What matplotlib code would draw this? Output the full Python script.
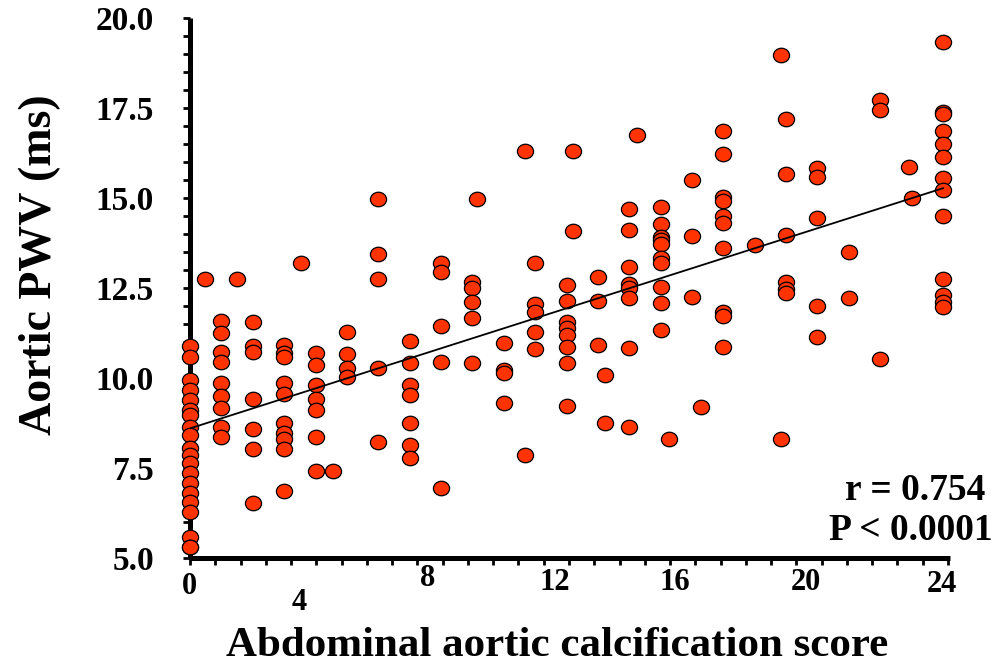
import matplotlib
matplotlib.use("Agg")
import matplotlib.pyplot as plt
import numpy as np
from matplotlib.path import Path
from matplotlib.transforms import blended_transform_factory, offset_copy

plt.rcParams['font.family'] = ['Liberation Serif', 'DejaVu Serif']
plt.rcParams['font.weight'] = 'bold'

# ---- data ----
aac_score = (
    [0] * 20
    + [0.48, 1.49, 3.53]
    + [1] * 9
    + [2] * 7
    + [3] * 10
    + [4] * 7
    + [4.55]
    + [5] * 4
    + [6] * 5
    + [7] * 7
    + [8] * 5
    + [9] * 5 + [9.14]
    + [10] * 4 + [10.68] * 2
    + [11] * 5
    + [12] * 8 + [12.22] * 2
    + [13] * 3 + [13.23] * 2
    + [14] * 8 + [14.26]
    + [15] * 10 + [15.27]
    + [16] * 3 + [16.28]
    + [17] * 10
    + [18.0]
    + [18.84] * 2
    + [19] * 6
    + [20] * 5
    + [21] * 2
    + [22] * 3
    + [22.92, 23.0]
    + [24] * 13
)
pwv = (
    [10.89, 10.59, 9.94, 9.67, 9.39, 9.11, 8.97, 8.65, 8.42, 8.05, 7.86, 7.63,
     7.35, 7.07, 6.80, 6.56, 6.29, 5.59, 5.31, 5.31]
    + [12.74, 12.74, 13.19]
    + [11.59, 11.26, 10.73, 10.45, 9.85, 9.50, 9.17, 8.65, 8.37]
    + [11.55, 10.89, 10.73, 9.41, 8.58, 8.02, 6.52]
    + [10.92, 10.69, 10.59, 9.85, 9.56, 8.76, 8.46, 8.30, 8.02, 6.87]
    + [10.69, 10.36, 9.81, 9.41, 9.11, 8.37, 7.42]
    + [7.42]
    + [11.29, 10.67, 10.27, 10.04]
    + [14.97, 13.44, 12.75, 10.27, 8.21]
    + [11.04, 10.43, 9.81, 9.53, 8.74, 8.14, 7.77]
    + [13.19, 12.95, 11.45, 10.45, 6.95]
    + [12.68, 12.49, 12.10, 11.66, 10.41, 14.97]
    + [10.96, 10.22, 10.13, 9.30, 16.31, 7.86]
    + [13.19, 12.05, 11.84, 11.27, 10.80]
    + [12.58, 12.14, 11.56, 11.38, 11.19, 10.85, 10.41, 9.22, 16.31, 14.08]
    + [12.81, 12.14, 10.92, 10.08, 8.76]
    + [14.69, 14.11, 13.09, 12.60, 12.49, 12.21, 10.82, 8.65, 16.75]
    + [14.76, 14.28, 13.93, 13.83, 13.72, 13.32, 13.19, 12.52, 12.07, 11.33, 8.30]
    + [15.50, 13.94, 12.26, 9.20]
    + [16.86, 16.21, 15.04, 14.92, 14.50, 14.31, 13.62, 11.84, 11.72, 10.85]
    + [13.69]
    + [18.97, 8.30]
    + [17.19, 15.67, 13.97, 12.68, 12.46, 12.35]
    + [15.84, 15.59, 14.44, 12.00, 11.15]
    + [13.49, 12.23]
    + [17.72, 17.44, 10.52]
    + [15.85, 14.99]
    + [19.34, 17.40, 17.33, 16.85, 16.50, 16.15, 15.55, 15.22, 14.50, 12.74,
       12.31, 12.12, 11.96]
)
reg_intercept = 8.60
reg_slope = 0.278

x_tick_labels = ['0', '4', '8', '12', '16', '20', '24']
x_tick_label_pos = [-0.03, 3.47, 7.58, 11.63, 15.46, 19.63, 23.97]
x_tick_label_offset_px = [28, 45, 21, 24, 25, 25, 26]
x_minor_tick_count = 30
y_major_ticks = [5.0, 7.5, 10.0, 12.5, 15.0, 17.5, 20.0]

r_text = 'r = 0.754'
p_text = 'P < 0.0001'

# ---- figure ----
W, H = 999, 668
fig = plt.figure(figsize=(W / 100, H / 100), dpi=100)
left_px, right_px, top_px, bottom_px = 190, 950, 18, 558
ax = fig.add_axes([left_px / W, 1 - bottom_px / H,
                   (right_px - left_px) / W, (bottom_px - top_px) / H])

px_per_unit = 31.375
xmax = 24 + (right_px - 943) / px_per_unit
ax.set_xlim(0, xmax)
ax.set_ylim(5, 20)

for s in ['top', 'right']:
    ax.spines[s].set_visible(False)
for s in ['left', 'bottom']:
    ax.spines[s].set_linewidth(3.6)
    ax.spines[s].set_capstyle('butt')

# ellipse marker
circ = Path.unit_circle()
ell = Path(circ.vertices * np.array([1.0, 0.9]), circ.codes)

xs = np.array(aac_score, dtype=float)
ys = np.array(pwv, dtype=float)
ax.scatter(xs, ys, s=135, marker=ell, facecolor='#FF3300',
           edgecolor='black', linewidth=0.9, zorder=5, clip_on=False)

xl = np.array([0, 24])
ax.plot(xl, reg_intercept + reg_slope * xl, color='black', lw=1.3, zorder=6)

# ticks
ax.set_yticks(y_major_ticks)
ax.set_yticklabels([f'{v:.1f}' for v in y_major_ticks])
ax.set_yticks(np.arange(5, 20.01, 0.5), minor=True)
ax.set_xticks(np.linspace(0, (948 - 190) / px_per_unit, x_minor_tick_count + 1))
ax.set_xticklabels([])
ax.tick_params(axis='both', which='both', direction='out', length=5,
               width=2.0, color='black')
ax.tick_params(axis='y', which='major', labelsize=24, pad=21)
for lab in ax.get_yticklabels():
    lab.set_fontweight('bold')

trans = blended_transform_factory(ax.transData, ax.transAxes)
for lab, xp, off in zip(x_tick_labels, x_tick_label_pos, x_tick_label_offset_px):
    t = offset_copy(trans, fig=fig, x=0, y=-off * 72 / 100, units='points')
    ax.text(xp, 0, lab, transform=t, ha='center', va='center',
            fontsize=22, fontweight='bold')

fig.text(557 / W, 1 - 646 / H, 'Abdominal aortic calcification score',
         ha='center', va='center', fontsize=31, fontweight='bold')
fig.text(40 / W, 1 - 265 / H, 'Aortic PWV (ms)', ha='center', va='center',
         rotation=90, fontsize=33, fontweight='bold')

fig.text(985 / W, 1 - 490 / H, r_text, ha='right', va='center',
         fontsize=27, fontweight='bold')
fig.text(993 / W, 1 - 530 / H, p_text, ha='right', va='center',
         fontsize=27, fontweight='bold')

fig.savefig('out.png', dpi=100)
